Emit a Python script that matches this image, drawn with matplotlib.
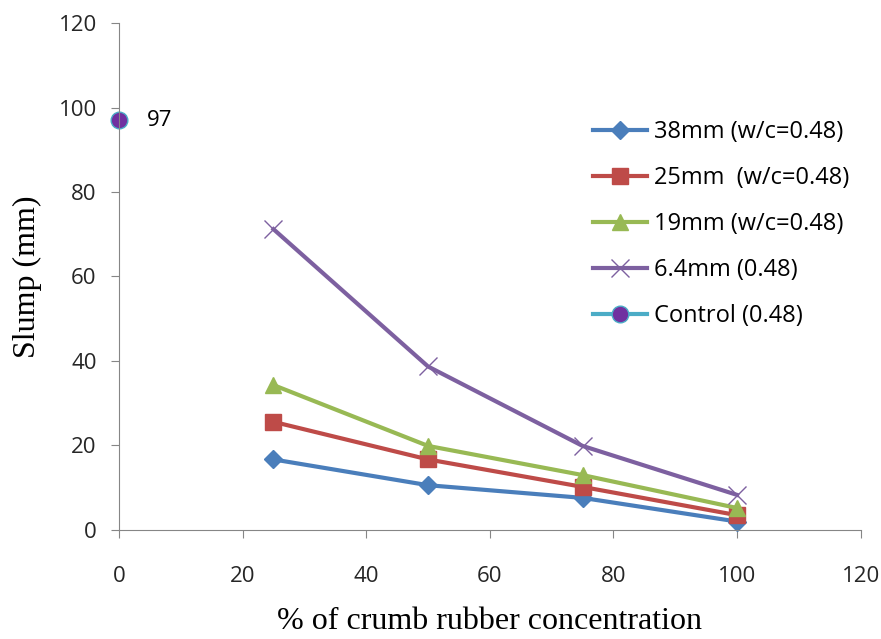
import matplotlib.pyplot as plt

# slump data
conc = [25, 50, 75, 100]
slump_38 = [16.7, 10.6, 7.6, 2.0]
slump_25 = [25.6, 16.7, 10.2, 3.5]
slump_19 = [34.3, 19.9, 13.0, 5.2]
slump_64 = [71.2, 38.7, 19.9, 8.3]
control_x = [0]
control_y = [97]

fig = plt.figure(figsize=(8.81, 6.39), dpi=100)
ax = fig.add_axes([0.135, 0.1706, 0.842, 0.7934])

lw = 3
ax.plot(conc, slump_38, color='#4A7EBB', lw=lw, marker='D', ms=9, label='38mm (w/c=0.48)', clip_on=False)
ax.plot(conc, slump_25, color='#BE4B48', lw=lw, marker='s', ms=11, label='25mm  (w/c=0.48)', clip_on=False)
ax.plot(conc, slump_19, color='#98B954', lw=lw, marker='^', ms=11, label='19mm (w/c=0.48)', clip_on=False)
ax.plot(conc, slump_64, color='#7D60A0', lw=lw, marker='x', ms=13, mew=1, label='6.4mm (0.48)', clip_on=False)
ax.plot(control_x, control_y, color='#4BACC6', lw=lw, marker='o', ms=12,
        mfc='#7030A0', mec='#4BACC6', mew=1, label='Control (0.48)', clip_on=False)
ax.annotate(str(control_y[0]), (control_x[0], control_y[0]), xytext=(20, 0),
            textcoords='offset points', va='center', ha='left', fontsize=16, family='Open Sans')

ax.set_xlim(0, 120)
ax.set_ylim(0, 120)
ax.set_xticks(range(0, 121, 20))
ax.set_yticks(range(0, 121, 20))
for s in ['top', 'right']:
    ax.spines[s].set_visible(False)
for s in ['left', 'bottom']:
    ax.spines[s].set_color('#868686')
ax.tick_params(direction='out', length=6, color='#868686', labelsize=16)
ax.tick_params(axis='x', pad=20)
ax.tick_params(axis='y', pad=10)
for lab in ax.get_xticklabels() + ax.get_yticklabels():
    lab.set_family('Open Sans')
    lab.set_color('#262626')

ax.set_xlabel('% of crumb rubber concentration', family='Liberation Serif', fontsize=23, labelpad=14)
ax.set_ylabel('Slump (mm)', family='Liberation Serif', fontsize=23, labelpad=12)

leg = ax.legend(loc='upper left', bbox_to_anchor=(0.61, 0.85), frameon=False,
                prop={'family': 'Open Sans', 'size': 17}, handlelength=2.3,
                labelspacing=0.93, handletextpad=0.3)

fig.savefig('out.png', dpi=100)
